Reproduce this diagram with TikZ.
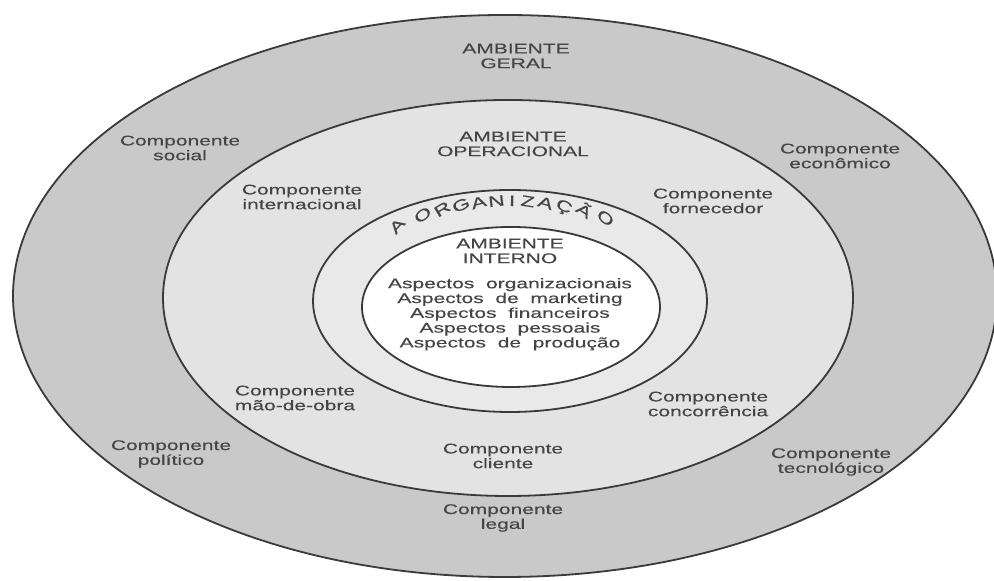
\documentclass[tikz,border=0pt]{standalone}
\usepackage{fontspec}
\setmainfont{Liberation Sans}
\newfontfamily\diagfont[FakeStretch=1.5, FakeBold=0.3]{Liberation Sans}
\usetikzlibrary{positioning}
\definecolor{geralgray}{HTML}{C9C9C9}
\definecolor{opergray}{HTML}{E3E3E3}
\definecolor{orggray}{HTML}{E9E9E9}
\definecolor{inkgray}{HTML}{454545}
\definecolor{linegray}{HTML}{3A3A3A}

\begin{document}
\begin{tikzpicture}[x=0.5pt, y=0.5pt,
    zone/.style={draw=linegray, line width=0.9pt},
    lbl/.style={font=\diagfont\fontsize{7}{7.4}\selectfont, text=inkgray, align=center, inner sep=0pt},
    letter/.style={font=\diagfont\fontsize{7.6}{8}\selectfont, text=inkgray, inner sep=0pt, anchor=base},
  ]
    \useasboundingbox (0,0) rectangle (994,581);
    \fill[white] (0,0) rectangle (994,581);

    % the four environments
    \filldraw[zone, fill=geralgray] (505,285) ellipse [x radius=492, y radius=281];
    \filldraw[zone, fill=opergray] (508,283) ellipse [x radius=345, y radius=198];
    \filldraw[zone, fill=orggray] (510,280) ellipse [x radius=197, y radius=111];
    \filldraw[zone, fill=white] (511,274) ellipse [x radius=149, y radius=80];

    % ambiente geral
    \node[lbl] (geral) at (516,525) {AMBIENTE\\GERAL};
    \node[lbl] (social) at (180,433) {Componente\\social};
    \node[lbl] (economico) at (840,425) {Componente\\econômico};
    \node[lbl] (politico) at (171,127) {Componente\\político};
    \node[lbl] (tecnologico) at (831,119) {Componente\\tecnológico};
    \node[lbl] (legal) at (503,63) {Componente\\legal};

    % ambiente operacional
    \node[lbl] (oper) at (513,437) {AMBIENTE\\OPERACIONAL};
    \node[lbl] (internacional) at (302,384) {Componente\\internacional};
    \node[lbl] (fornecedor) at (713,380) {Componente\\fornecedor};
    \node[lbl] (maodeobra) at (295,183) {Componente\\mão-de-obra};
    \node[lbl] (concorrencia) at (708,177) {Componente\\concorrência};
    \node[lbl] (cliente) at (503,125) {Componente\\cliente};

    % a organizacao, lettered round the ring
    \foreach \ch/\xp [count=\k] in {A/401,O/426,R/445,G/463,A/480,N/497,I/512,Z/527,A/544,Ç/562,Ã/581,O/602} {
      \pgfmathsetmacro\t{acos((\xp-510)/166)}
      \pgfmathsetmacro\r{0.85*(atan2(95*sin(\t),166*cos(\t))-90)}
      \node[letter, rotate=\r] (org\k) at ({510+166*cos(\t)}, {280+95*sin(\t)}) {\ch};
    }

    % ambiente interno
    \node[lbl] (interno) at (510,330) {AMBIENTE\\INTERNO};
    \node[lbl, below=7pt of interno] (aspectos) {Aspectos\ \ organizacionais\\Aspectos\ \ de\ \ marketing\\Aspectos\ \ financeiros\\Aspectos\ \ pessoais\\Aspectos\ \ de\ \ produção};
\end{tikzpicture}
\end{document}
